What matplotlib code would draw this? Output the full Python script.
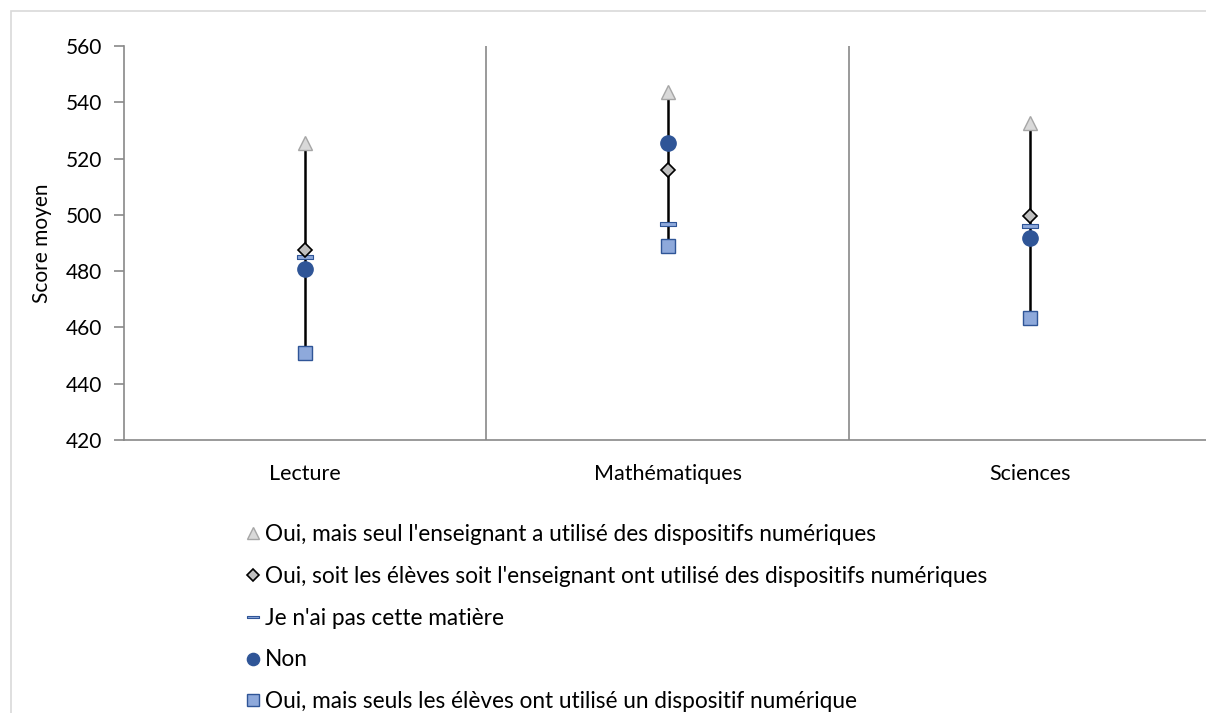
import numpy as np
import matplotlib.pyplot as plt
from matplotlib.lines import Line2D
from matplotlib.patches import Rectangle

plt.rcParams['font.family'] = ['Lato', 'DejaVu Sans']

categories = ["Lecture", "Mathématiques", "Sciences"]
series_names = [
    "Oui, mais seul l'enseignant a utilisé des dispositifs numériques",
    "Oui, soit les élèves soit l'enseignant ont utilisé des dispositifs numériques",
    "Je n'ai pas cette matière",
    "Non",
    "Oui, mais seuls les élèves ont utilisé un dispositif numérique",
]
teacher_only = [525.5, 543.7, 532.6]
either = [487.5, 516.0, 499.6]
no_subject = [485.0, 496.8, 495.9]
non = [480.9, 525.5, 491.9]
students_only = [451.0, 488.9, 463.3]

y_ticks = [420, 440, 460, 480, 500, 520, 540, 560]

# marker styles (order = legend order)
dash = [(-1, -0.2), (1, -0.2), (1, 0.2), (-1, 0.2), (-1, -0.2)]
styles = [
    dict(marker="^", ms=10.5, mfc="#D9D9D9", mec="#A6A6A6", mew=1.0),
    dict(marker="D", ms=7.5, mfc="#BFBFBF", mec="#000000", mew=1.2),
    dict(marker=dash, ms=11, mfc="#8EA9DB", mec="#2F5597", mew=0.8),
    dict(marker="o", ms=11, mfc="#2F5597", mec="#2F5597", mew=1.0),
    dict(marker="s", ms=10.5, mfc="#8EA9DB", mec="#2F5597", mew=1.0),
]
data = [teacher_only, either, no_subject, non, students_only]

fig = plt.figure(figsize=(12.06, 7.13), dpi=100)
fig.patches.append(Rectangle((11 / 1206, -0.5), 2, 1.5 - 11 / 713, transform=fig.transFigure,
                             fill=False, edgecolor="#D9D9D9", lw=1.2))
ax = fig.add_axes([124 / 1206, 1 - 440 / 713, 1087 / 1206, 394 / 713])

x = np.arange(len(categories)) + 0.5
arr = np.array(data)
ax.vlines(x, arr.min(axis=0), arr.max(axis=0), color="black", lw=1.8, zorder=2)

draw_order = [4, 3, 2, 1, 0]
for i in draw_order:
    ax.plot(x, data[i], ls="none", zorder=3, **styles[i])

for sep in [1, 2]:
    ax.axvline(sep, color="#898989", lw=1.2, zorder=1)

ax.set_xlim(0, 3)
ax.set_ylim(420, 560)
ax.set_yticks(y_ticks)
ax.set_xticks(x)
ax.set_xticklabels(categories)
ax.tick_params(axis="x", length=0, pad=17, labelsize=15.5)
ax.tick_params(axis="y", length=7, pad=9, labelsize=15, color="#898989", width=1.2)
for s in ["top", "right"]:
    ax.spines[s].set_visible(False)
for s in ["left", "bottom"]:
    ax.spines[s].set_color("#898989")
    ax.spines[s].set_linewidth(1.2)
ax.set_ylabel("Score moyen", fontsize=15, labelpad=10)

handles = [Line2D([], [], ls="none", **{**st, "ms": st["ms"] * 0.8}) for st in styles]
fig.legend(handles, series_names, loc="upper left", bbox_to_anchor=(247 / 1206, 1 - 524 / 713),
           frameon=False, fontsize=16.3, handlelength=0.55, handletextpad=0.25,
           labelspacing=0.92, borderpad=0, borderaxespad=0)

fig.savefig("out.png", dpi=100)
